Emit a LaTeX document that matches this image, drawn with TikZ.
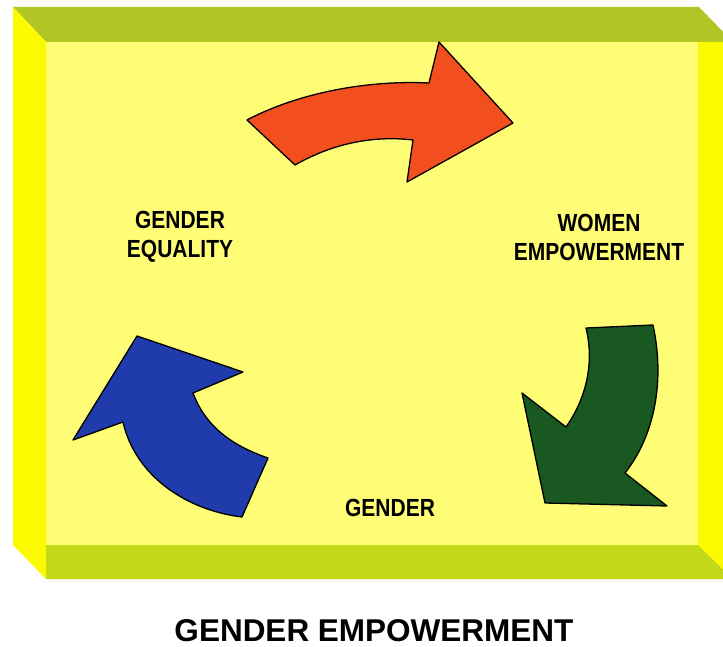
\documentclass[tikz,border=0pt]{standalone}
\usepackage{graphicx}
\usepackage{fontspec}
\setmainfont{Liberation Sans}
\newcommand{\talltext}[1]{\scalebox{1}[1.18]{#1}}
\begin{document}
\begin{tikzpicture}[x=1pt,y=-1pt,
  lbl/.style={font=\bfseries\fontsize{21}{29}\selectfont, align=center, inner sep=0pt},
  ttl/.style={font=\bfseries\fontsize{31.5}{36}\selectfont, inner sep=0pt},
  arr/.style={draw=black, line width=1.3pt, line join=round}]
\definecolor{face}{RGB}{255,253,118}
\definecolor{side}{RGB}{252,250,0}
\definecolor{bandtop}{RGB}{178,198,38}
\definecolor{bandbot}{RGB}{196,216,26}
\definecolor{redarr}{RGB}{242,78,30}
\definecolor{bluearr}{RGB}{32,60,172}
\definecolor{greenarr}{RGB}{26,88,34}
\useasboundingbox (0,0) rectangle (723,647);
\fill[white] (0,0) rectangle (723,647);
% frame
\fill[face] (46,42) rectangle (698,545);
\fill[bandtop] (13,7) -- (699,7) -- (733,42) -- (46,42) -- cycle;
\fill[bandbot] (46,545) -- (699,545) -- (733,579) -- (46,579) -- cycle;
\fill[side] (13,7) -- (46,42) -- (46,579) -- (13,545) -- cycle;
\fill[side] (698,42) -- (733,42) -- (733,579) -- (698,545) -- cycle;
% arrows
\draw[arr, fill=redarr] (247,120) .. controls (300,92) and (370,80) .. (429,83)
  -- (439,42) -- (513,123) -- (407,182) -- (413,140)
  .. controls (370,135) and (330,145) .. (295,165) -- cycle;
\draw[arr, fill=bluearr] (137,336) -- (243,372) -- (193,393)
  .. controls (205,425) and (230,445) .. (268,458) -- (242,517)
  .. controls (185,510) and (135,475) .. (123,422) -- (73,440) -- cycle;
\draw[arr, fill=greenarr] (586,328) -- (653,325)
  .. controls (665,380) and (655,435) .. (625,473) -- (667,506) -- (545,503)
  -- (522,393) -- (566,427) .. controls (585,400) and (595,365) .. (586,328) -- cycle;
% labels
\node[lbl] (ge) at (180,237) {\talltext{GENDER}\\\talltext{EQUALITY}};
\node[lbl] (we) at (599,237) {\talltext{WOMEN}\\\talltext{EMPOWERMENT}};
\node[lbl] (g) at (390,508) {\talltext{GENDER}};
\node[ttl] (title) at (374,631) {GENDER EMPOWERMENT};
\end{tikzpicture}
\end{document}
